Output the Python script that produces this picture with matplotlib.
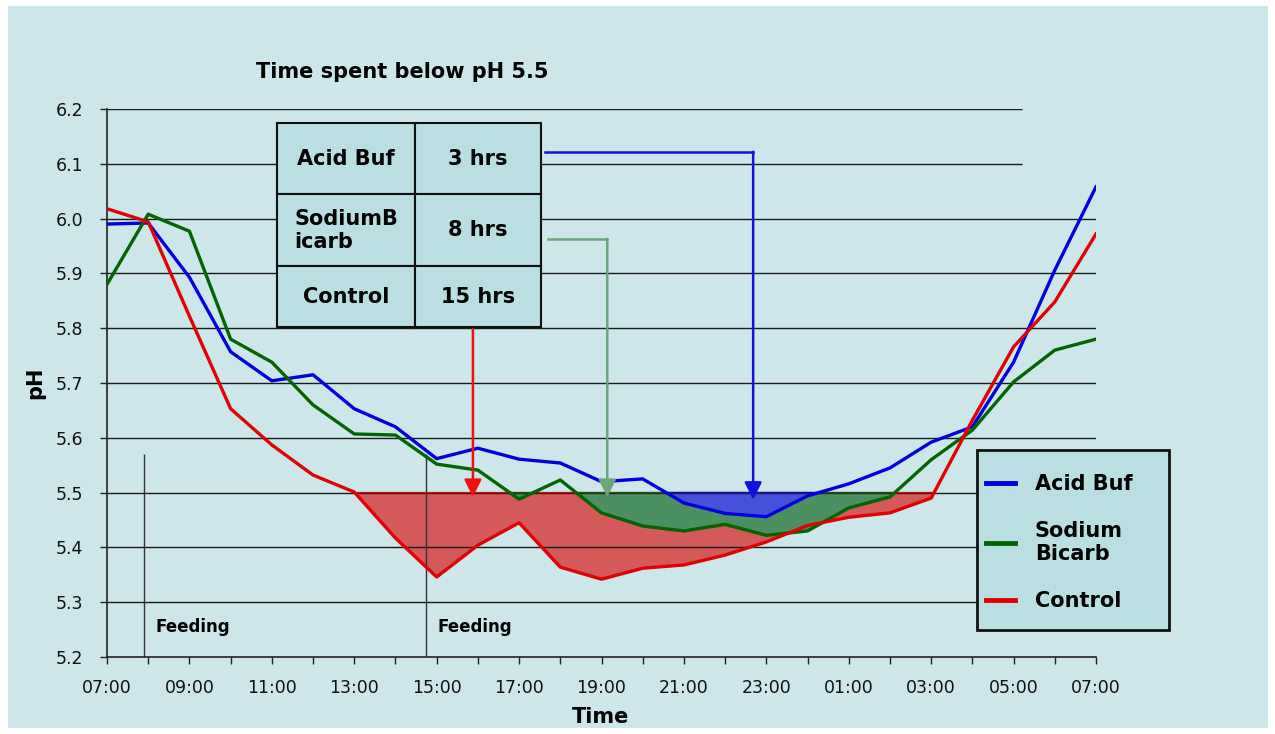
import matplotlib
matplotlib.use('Agg')
import matplotlib.pyplot as plt
from matplotlib.patches import Rectangle
from matplotlib.lines import Line2D
import numpy as np

plt.rcParams['font.family'] = ['DejaVu Sans']

# hourly readings, 07:00 -> 07:00 next day
hours = list(range(25))
time_labels = ['07:00', '09:00', '11:00', '13:00', '15:00', '17:00', '19:00',
               '21:00', '23:00', '01:00', '03:00', '05:00', '07:00']
acid_buf = [5.99, 5.992, 5.893, 5.757, 5.704, 5.715, 5.653, 5.62, 5.562, 5.581, 5.561, 5.554, 5.52,
            5.525, 5.481, 5.462, 5.456, 5.494, 5.516, 5.545, 5.592, 5.62, 5.738, 5.906, 6.058]
sodium_bicarb = [5.88, 6.008, 5.977, 5.78, 5.738, 5.66, 5.607, 5.605, 5.552, 5.541, 5.488, 5.523, 5.463,
                 5.439, 5.43, 5.442, 5.422, 5.43, 5.472, 5.492, 5.56, 5.614, 5.702, 5.76, 5.78]
control = [6.018, 5.994, 5.822, 5.653, 5.587, 5.532, 5.501, 5.417, 5.346, 5.404, 5.445, 5.364, 5.342,
           5.362, 5.368, 5.386, 5.41, 5.44, 5.455, 5.463, 5.49, 5.632, 5.766, 5.848, 5.972]
table_rows = [['Acid Buf', '3 hrs'], ['SodiumB\nicarb', '8 hrs'], ['Control', '15 hrs']]
feeding_hours = [0.9, 7.74]
threshold = 5.5

BG = '#cce6ea'
CELL = '#b9dfe3'
BLUE, GREEN, RED = '#0000dd', '#006400', '#e00000'

fig = plt.figure(figsize=(12.75, 7.34), dpi=100)
fig.patch.set_facecolor('white')
fig.patches.append(Rectangle((8 / 1275, 6 / 734), 1260 / 1275, 722 / 734, transform=fig.transFigure,
                             facecolor=BG, edgecolor='none', zorder=-1))

ax = fig.add_axes([107 / 1275, 77 / 734, 989 / 1275, 548 / 734])
ax.set_facecolor('none')
ax.set_xlim(0, 24)
ax.set_ylim(5.2, 6.2)

x = np.array(hours)
# shaded time below pH 5.5
for vals, fc, ec in [(control, '#d45a5a', RED), (sodium_bicarb, '#4a9060', GREEN), (acid_buf, '#4650d8', BLUE)]:
    v = np.array(vals)
    ax.fill_between(x, v, threshold, where=v < threshold, interpolate=True,
                    facecolor=fc, edgecolor='none', zorder=1)
    ax.fill_between(x, v, threshold, where=v < threshold, interpolate=True,
                    facecolor='none', edgecolor=ec, lw=1.0, zorder=1.7)

# gridlines
for yv in np.arange(5.3, 6.25, 0.1):
    xmax = 22.2 if yv > 6.05 else 24
    ax.hlines(yv, 0, xmax, color='#1a1a1a', lw=1.0, zorder=1.5)

ax.plot(x, acid_buf, color=BLUE, lw=2.4, zorder=3)
ax.plot(x, sodium_bicarb, color=GREEN, lw=2.4, zorder=3)
ax.plot(x, control, color=RED, lw=2.4, zorder=3)

# feeding markers
ax.vlines(feeding_hours, 5.2, 5.57, color='#333333', lw=1.0, zorder=1.5)
for h in feeding_hours:
    ax.text(h + 0.27, 5.255, 'Feeding', fontsize=12, fontweight='bold', va='center')

# summary table
tbl = ax.table(cellText=table_rows, colWidths=[138, 126], cellLoc='center',
               bbox=[0.172, 0.602, 0.267, 0.372])
tbl.auto_set_font_size(False)
tbl.set_fontsize(15)
row_h = [71, 72, 61]
for (r, c), cell in tbl.get_celld().items():
    cell.set_facecolor(CELL)
    cell.set_edgecolor('#111111')
    cell.set_linewidth(1.5)
    cell.set_height(row_h[r])
    cell.get_text().set_fontweight('bold')
    cell.get_text().set_multialignment('left')
tbl.set_zorder(4)

# arrows from table to the 5.5 line
arr = dict(arrowstyle='-|>,head_length=0.7,head_width=0.35', lw=1.8, mutation_scale=15, shrinkA=0, shrinkB=0)
ax.plot([10.63, 15.68], [6.122, 6.122], color='#1010e0', lw=1.8, zorder=3)
ax.annotate('', xy=(15.68, 5.487), xytext=(15.68, 6.122),
            arrowprops=dict(arr, color='#1010e0'), zorder=3)
ax.plot([10.7, 12.14], [5.963, 5.963], color='#6ba67a', lw=1.8, zorder=3)
ax.annotate('', xy=(12.14, 5.492), xytext=(12.14, 5.963),
            arrowprops=dict(arr, color='#6ba67a'), zorder=3)
ax.annotate('', xy=(8.88, 5.492), xytext=(8.88, 5.80),
            arrowprops=dict(arr, color='#f01010'), zorder=3)

# legend
ax.add_patch(Rectangle((977 / 1275, 1 - 630 / 734), 192 / 1275, 180 / 734, transform=fig.transFigure,
                       facecolor=CELL, edgecolor='#111111', lw=2, zorder=4.5, clip_on=False))
handles = [Line2D([], [], color=c, lw=3.5) for c in (BLUE, GREEN, RED)]
leg = ax.legend(handles, ['Acid Buf', 'Sodium\nBicarb', 'Control'], loc='upper left',
                bbox_to_anchor=(986 / 1275, 1 - 474 / 734), bbox_transform=fig.transFigure,
                frameon=False, borderpad=0, borderaxespad=0, handlelength=1.4, handletextpad=0.95,
                labelspacing=1.3, prop=dict(weight='bold', size=15))
leg.set_zorder(5)

# axes styling
for s in ('top', 'right'):
    ax.spines[s].set_visible(False)
for s in ('left', 'bottom'):
    ax.spines[s].set_color('#222222')
    ax.spines[s].set_linewidth(1.2)
ax.set_xticks(range(0, 25, 2))
ax.set_xticklabels(time_labels)
ax.set_xticks(range(0, 25), minor=True)
ax.set_yticks(np.round(np.arange(5.2, 6.25, 0.1), 1))
ax.set_yticklabels(['%.1f' % v for v in np.arange(5.2, 6.25, 0.1)])
ax.tick_params(axis='both', which='both', direction='out', length=5, width=1, colors='#222222',
               labelcolor='#111111', labelsize=12.5)
ax.tick_params(axis='y', pad=12)
ax.tick_params(axis='x', pad=11)

fig.text(256 / 1275, 1 - 72 / 734, 'Time spent below pH 5.5', fontsize=15, fontweight='bold',
         ha='left', va='center')
fig.text(601 / 1275, 1 - 717 / 734, 'Time', fontsize=15, fontweight='bold', ha='center', va='center')
fig.text(35 / 1275, 1 - 383 / 734, 'pH', fontsize=15, fontweight='bold', rotation=90,
         ha='center', va='center')

fig.savefig('out.png', dpi=100, facecolor=fig.get_facecolor())
